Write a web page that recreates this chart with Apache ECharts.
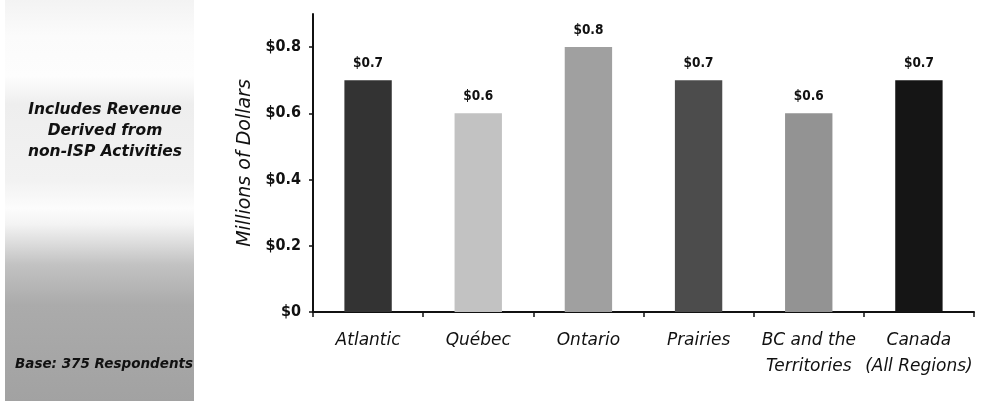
<!DOCTYPE html>
<html>
<head>
<meta charset="utf-8">
<script src="https://cdn.jsdelivr.net/npm/echarts@6/dist/echarts.min.js"></script>
<style>html,body{margin:0;padding:0;background:#fff}#c{width:983px;height:401px}</style>
</head>
<body>
<div id="c"></div>
<script>
const categories = ['Atlantic', 'Québec', 'Ontario', 'Prairies', 'BC and the\nTerritories', 'Canada\n(All Regions)'];
const values = [0.7, 0.6, 0.8, 0.7, 0.6, 0.7];
const valueLabels = ['$0.7', '$0.6', '$0.8', '$0.7', '$0.6', '$0.7'];
const barColors = ['#333333', '#c2c2c2', '#a0a0a0', '#4c4c4c', '#939393', '#151515'];
const tickLabels = { '0': '$0', '0.2': '$0.2', '0.4': '$0.4', '0.6': '$0.6', '0.8': '$0.8' };
const yTitle = 'Millions of Dollars';
const noteLines = ['Includes Revenue', 'Derived from', 'non-ISP Activities'];
const baseNote = 'Base: 375 Respondents';

const noteTexts = noteLines.map((t, i) => ({
  type: 'text', x: 105, y: 110 + i * 21, z: 10,
  style: {
    text: t, fill: '#111', align: 'center', verticalAlign: 'middle',
    font: 'italic bold 15.5px "DejaVu Sans"'
  }
}));

const chart = echarts.init(document.getElementById('c'), null, { renderer: 'canvas' });
chart.setOption({
  animation: false,
  backgroundColor: '#fff',
  grid: { left: 313, right: 9, top: 14, bottom: 89, containLabel: false },
  graphic: [
    {
      type: 'rect', x: 5, y: 0, z: -10,
      shape: { width: 189, height: 401 },
      style: {
        fill: new echarts.graphic.LinearGradient(0, 0, 0, 1, [
          { offset: 0, color: '#f3f3f3' },
          { offset: 0.09, color: '#fbfbfb' },
          { offset: 0.19, color: '#fdfdfd' },
          { offset: 0.26, color: '#eeeeee' },
          { offset: 0.45, color: '#f2f2f2' },
          { offset: 0.52, color: '#fcfcfc' },
          { offset: 0.56, color: '#f3f3f3' },
          { offset: 0.66, color: '#c2c2c2' },
          { offset: 0.76, color: '#ababab' },
          { offset: 1, color: '#a2a2a2' }
        ])
      }
    },
    ...noteTexts,
    {
      type: 'text', x: 104, y: 364, z: 10,
      style: {
        text: baseNote, fill: '#111', align: 'center', verticalAlign: 'middle',
        font: 'italic bold 13.5px "DejaVu Sans"'
      }
    }
  ],
  xAxis: {
    type: 'category',
    data: categories,
    axisLine: { lineStyle: { color: '#111', width: 2 } },
    axisTick: { show: true, length: 5, lineStyle: { color: '#111', width: 1.5 } },
    axisLabel: {
      color: '#111', fontFamily: 'DejaVu Sans', fontStyle: 'italic',
      fontSize: 17, margin: 16, lineHeight: 26, interval: 0
    }
  },
  yAxis: {
    type: 'value', min: 0, max: 0.9, interval: 0.2,
    name: yTitle, nameLocation: 'middle', nameGap: 57, nameRotate: 90,
    nameTextStyle: { color: '#111', fontFamily: 'DejaVu Sans', fontStyle: 'italic', fontSize: 19 },
    splitLine: { show: false },
    axisLine: { show: true, lineStyle: { color: '#111', width: 2 } },
    axisTick: { show: true, length: 4, lineStyle: { color: '#111', width: 1.5 } },
    axisLabel: {
      showMaxLabel: false, margin: 12,
      color: '#111', fontFamily: '"DejaVu Sans Condensed", "DejaVu Sans"', fontWeight: 'bold', fontSize: 16,
      formatter: v => { const k = String(Math.round(v * 10) / 10); return tickLabels[k] !== undefined ? tickLabels[k] : ''; }
    }
  },
  series: [{
    type: 'bar',
    data: values.map((v, i) => ({ value: v, itemStyle: { color: barColors[i] } })),
    barWidth: '43%',
    label: {
      show: true, position: 'top', distance: 10,
      color: '#111', fontFamily: '"DejaVu Sans Condensed", "DejaVu Sans"', fontWeight: 'bold', fontSize: 13.5,
      formatter: p => valueLabels[p.dataIndex]
    }
  }]
});
</script>
</body>
</html>
